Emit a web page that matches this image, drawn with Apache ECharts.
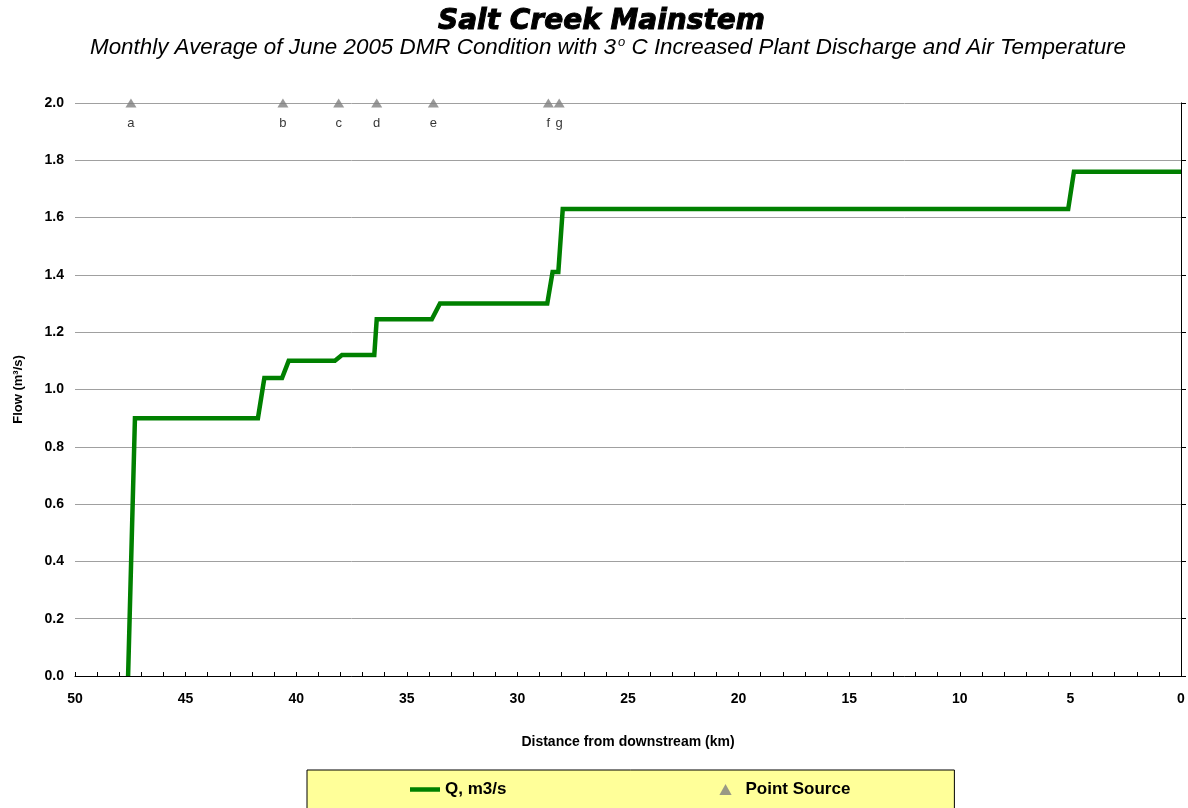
<!DOCTYPE html>
<html><head><meta charset="utf-8">
<script src="https://cdn.jsdelivr.net/npm/echarts@6/dist/echarts.min.js"></script>
<style>html,body{margin:0;padding:0;background:#fff}#c{width:1188px;height:808px}</style>
</head><body><div id="c"></div>
<script>
// Flow profile (distance from downstream in km, flow in m3/s)
const flowDist = [47.60, 47.29, 41.73, 41.44, 40.64, 40.34, 38.25, 37.93, 36.47, 36.36, 33.87, 33.50, 28.65, 28.41, 28.15, 27.95, 5.10, 4.84, 0];
const flowQ    = [0.00, 0.90, 0.90, 1.04, 1.04, 1.10, 1.10, 1.12, 1.12, 1.245, 1.245, 1.30, 1.30, 1.41, 1.41, 1.63, 1.63, 1.76, 1.76];
// Point sources
const psNames = ['a', 'b', 'c', 'd', 'e', 'f', 'g'];
const psDist  = [47.47, 40.60, 38.08, 36.36, 33.80, 28.60, 28.11];
const psLevel = 2.0;
// Axis ticks
const xMin = 0, xMax = 50, xStep = 5;
const yMin = 0, yMax = 2.0, yStep = 0.2;

const FONT = 'Liberation Sans, Arial, sans-serif';
const chart = echarts.init(document.getElementById('c'));
chart.setOption({
  animation: false,
  backgroundColor: '#ffffff',
  title: [{
    text: 'Salt Creek Mainstem',
    left: 433, top: 3,
    textStyle: { fontFamily: 'DejaVu Sans', fontSize: 28, fontWeight: 'bold', fontStyle: 'italic', color: '#000',
      textBorderColor: '#000', textBorderWidth: 1 }
  }, {
    text: 'Monthly Average of June 2005 DMR Condition with 3{s|o} C Increased Plant Discharge and Air Temperature',
    left: 85, top: 31,
    textStyle: { fontFamily: FONT, fontSize: 22.4, fontWeight: 'normal', fontStyle: 'italic', color: '#000',
      rich: { s: { fontFamily: FONT, fontSize: 13, fontWeight: 'normal', fontStyle: 'italic', color: '#000', verticalAlign: 'top', padding: [0, 0, 10, 2] } } }
  }],
  grid: { left: 75, right: 7, top: 103, bottom: 132, containLabel: false },
  legend: {
    left: 307, top: 770,
    backgroundColor: '#ffff99', borderColor: '#000', borderWidth: 1,
    padding: [11, 104, 12, 103],
    itemGap: 213, itemWidth: 30, itemHeight: 11,
    textStyle: { fontFamily: FONT, fontSize: 17, fontWeight: 'bold', color: '#000' },
    data: [
      { name: 'Q, m3/s', icon: 'path://M0,0 H30 V4.5 H0 Z', itemStyle: { color: '#008000' } },
      { name: 'Point Source', icon: 'path://M5,0 L10,9 L0,9 Z', itemStyle: { color: '#808080' } }
    ]
  },
  xAxis: {
    type: 'value', inverse: true, min: xMin, max: xMax, interval: xStep,
    name: 'Distance from downstream (km)', nameLocation: 'middle', nameGap: 59,
    nameTextStyle: { fontFamily: FONT, fontSize: 14, fontWeight: 'bold', color: '#000' },
    axisLine: { show: true, onZero: false, lineStyle: { color: '#000', width: 1 } },
    axisTick: { show: true, inside: true, length: 4, lineStyle: { color: '#000' } },
    minorTick: { show: true, splitNumber: 5, length: 4, lineStyle: { color: '#000' } },
    axisLabel: { fontFamily: FONT, fontSize: 14, fontWeight: 'bold', color: '#000', margin: 16 },
    splitLine: { show: false }
  },
  yAxis: [{
    type: 'value', min: yMin, max: yMax, interval: yStep, position: 'left',
    name: 'Flow (m³/s)', nameLocation: 'middle', nameRotate: 90, nameGap: 50,
    nameTextStyle: { fontFamily: FONT, fontSize: 13, fontWeight: 'bold', color: '#000' },
    axisLine: { show: true, lineStyle: { color: '#808080', width: 1 } },
    axisTick: { show: false },
    axisLabel: { fontFamily: FONT, fontSize: 14, fontWeight: 'bold', color: '#000', margin: 11,
      formatter: v => v.toFixed(1) },
    splitLine: { show: true, lineStyle: { color: '#a0a0a0', width: 1 } }
  }, {
    type: 'value', min: yMin, max: yMax, interval: yStep, position: 'right',
    axisLine: { show: true, lineStyle: { color: '#000', width: 1 } },
    axisTick: { show: true, inside: false, length: 5, lineStyle: { color: '#000' } },
    axisLabel: { show: false },
    splitLine: { show: false }
  }],
  series: [{
    name: 'Q, m3/s', type: 'line', yAxisIndex: 0,
    data: flowDist.map((d, i) => [d, flowQ[i]]),
    showSymbol: false, symbol: 'none',
    lineStyle: { color: '#008000', width: 4.5, join: 'miter' },
    itemStyle: { color: '#008000' },
    z: 3
  }, {
    name: 'Point Source', type: 'scatter', yAxisIndex: 0,
    data: psDist.map((d, i) => ({ name: psNames[i], value: [d, psLevel] })),
    symbol: 'triangle', symbolSize: [11, 9],
    itemStyle: { color: '#808080' },
    label: { show: true, position: 'bottom', distance: 9, formatter: p => p.name,
      fontFamily: FONT, fontSize: 13, color: '#000' },
    clip: false, z: 4
  }]
});
</script>
</body></html>
